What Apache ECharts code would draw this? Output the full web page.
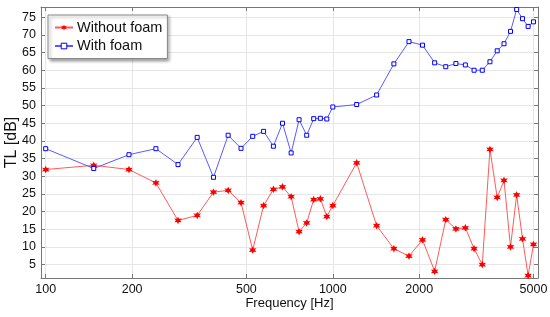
<!DOCTYPE html>
<html>
<head>
<meta charset="utf-8">
<script src="https://cdn.jsdelivr.net/npm/echarts@6/dist/echarts.min.js"></script>
<style>
html, body { margin: 0; padding: 0; background: #fff; }
#chart { width: 550px; height: 317px; }
</style>
</head>
<body>
<div id="chart"></div>
<script>
// frequencies [Hz]
var freq = [100, 147, 195, 242, 289, 337, 384, 432, 479, 526, 574, 621, 668, 716, 763, 811, 858, 905, 953, 1000,
            1211, 1421, 1632, 1842, 2053, 2263, 2474, 2684, 2895, 3105, 3316, 3526, 3737, 3947, 4158, 4368, 4579, 4789, 5000];
// TL [dB]
var withoutFoam = [31.9, 33.1, 31.9, 28.1, 17.5, 18.9, 25.5, 26.0, 22.5, 9.1, 21.7, 26.3, 27.0, 24.2, 14.3, 16.8, 23.4, 23.6, 18.6, 21.7,
                   33.8, 16.0, 9.5, 7.4, 12.0, 3.1, 17.7, 15.1, 15.4, 9.5, 5.0, 37.6, 24.0, 28.8, 10.0, 24.7, 12.3, 1.9, 10.7];
var withFoam = [37.8, 32.2, 36.1, 37.8, 33.3, 41.0, 29.7, 41.6, 37.9, 41.3, 42.7, 38.5, 45.0, 36.6, 46.0, 41.6, 46.3, 46.4, 46.2, 49.6,
                50.3, 53.0, 61.8, 68.1, 67.1, 62.1, 61.0, 61.9, 61.5, 60.0, 60.0, 62.4, 65.5, 67.5, 71.0, 77.2, 74.6, 72.4, 73.7];
var xTicks = [100, 200, 500, 1000, 2000, 5000];
var yTicks = [5, 10, 15, 20, 25, 30, 35, 40, 45, 50, 55, 60, 65, 70, 75];

var FONT = '"Liberation Sans", Arial, sans-serif';
var starPath = 'path://M10 0 L12.5 5.67 L18.66 5 L15 10 L18.66 15 L12.5 14.33 L10 20 L7.5 14.33 L1.34 15 L5 10 L1.34 5 L7.5 5.67 Z';

function pairs(ys) {
    var out = [];
    for (var i = 0; i < freq.length; i++) out.push([freq[i], ys[i]]);
    return out;
}

function xAxisCfg(pos, show) {
    return {
        type: 'log', logBase: 10, position: pos,
        min: 96.3, max: 5184,
        name: show ? 'Frequency [Hz]' : '',
        nameLocation: 'middle', nameGap: 19, nameMoveOverlap: false,
        nameTextStyle: { color: '#111', fontSize: 13, fontFamily: FONT },
        axisLine: { show: true, lineStyle: { color: '#777', width: 1 } },
        axisTick: { show: true, inside: true, length: 4, customValues: xTicks, lineStyle: { color: '#777' } },
        axisLabel: {
            show: show, customValues: xTicks, color: '#111', fontSize: 12.5, fontFamily: FONT, margin: 5,
            formatter: function (v) { return String(Math.round(v)); }
        },
        splitLine: { show: show, lineStyle: { color: '#e6e6e6', width: 1 } },
        minorTick: { show: false }
    };
}

function yAxisCfg(pos, show) {
    return {
        type: 'value', position: pos,
        min: 1.2, max: 77.9,
        name: show ? 'TL [dB]' : '',
        nameLocation: 'middle', nameGap: 21, nameMoveOverlap: false,
        nameTextStyle: { color: '#111', fontSize: 16, fontFamily: FONT },
        axisLine: { show: true, lineStyle: { color: '#777', width: 1 } },
        axisTick: { show: true, inside: true, length: 4, customValues: yTicks, lineStyle: { color: '#777' } },
        axisLabel: { show: show, customValues: yTicks, color: '#111', fontSize: 12.5, fontFamily: FONT, margin: 5 },
        splitLine: { show: show, lineStyle: { color: '#e6e6e6', width: 1 } }
    };
}

var chart = echarts.init(document.getElementById('chart'), null, { renderer: 'canvas' });
chart.setOption({
    animation: false,
    backgroundColor: '#fff',
    grid: { left: 41, right: 12, top: 7, bottom: 39, containLabel: false, outerBoundsMode: 'none' },
    legend: {
        orient: 'vertical', left: 48, top: 15,
        padding: [5, 5, 5, 6], itemGap: 3.5,
        itemWidth: 18, itemHeight: 7,
        backgroundColor: '#fff', borderColor: '#888', borderWidth: 1,
        shadowColor: 'rgba(0,0,0,0.35)', shadowBlur: 3, shadowOffsetX: 2, shadowOffsetY: 2,
        textStyle: { color: '#111', fontSize: 14.5, fontFamily: FONT, padding: [0, 0, 0, -1] },
        data: [
            { name: 'Without foam' },
            { name: 'With foam', itemStyle: { borderWidth: 1 } }
        ]
    },
    xAxis: [xAxisCfg('bottom', true), xAxisCfg('top', false)],
    yAxis: [yAxisCfg('left', true), yAxisCfg('right', false)],
    series: [
        {
            name: 'Without foam', type: 'line',
            xAxisIndex: 0, yAxisIndex: 0,
            data: pairs(withoutFoam),
            symbol: starPath, symbolSize: 7.5,
            itemStyle: { color: '#ff0000' },
            lineStyle: { color: '#ff5a5a', width: 1 }
        },
        {
            name: 'With foam', type: 'line',
            xAxisIndex: 0, yAxisIndex: 0,
            data: pairs(withFoam),
            symbol: 'rect', symbolSize: 4,
            itemStyle: { color: '#ffffff', borderColor: '#0000ff', borderWidth: 1 },
            lineStyle: { color: '#5a5aff', width: 1 }
        }
    ]
});
</script>
</body>
</html>
